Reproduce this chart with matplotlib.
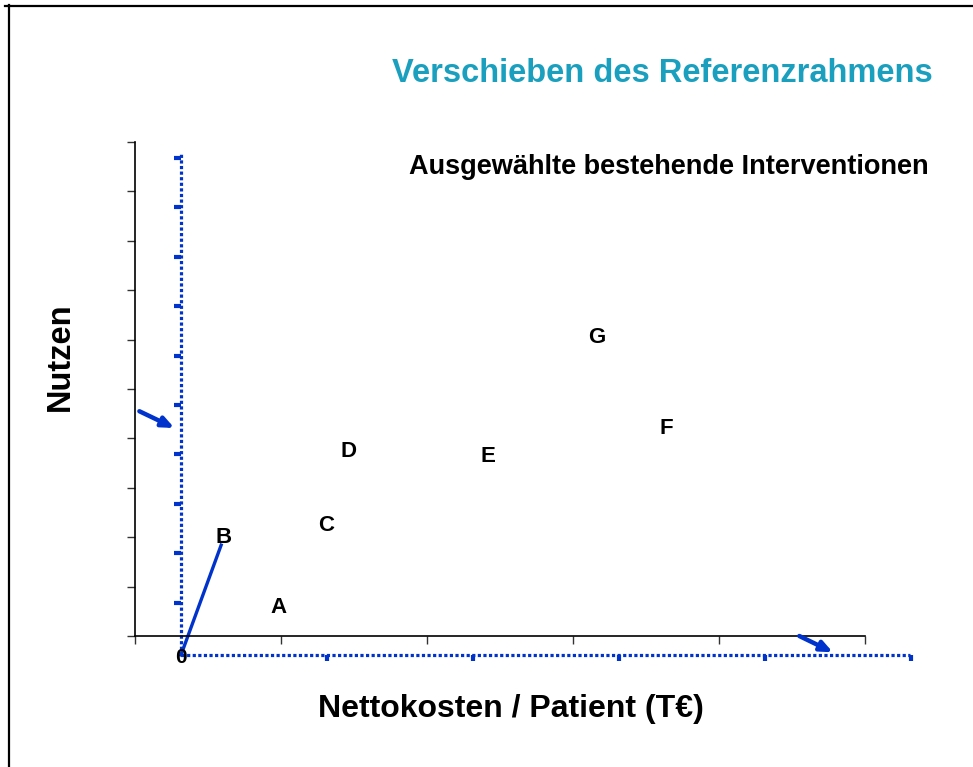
import matplotlib
matplotlib.use("Agg")
import matplotlib.pyplot as plt
from matplotlib.lines import Line2D

plt.rcParams['font.family'] = ['Liberation Sans', 'DejaVu Sans']

# Interventionen (Position im Diagramm)
labels = ["A", "B", "C", "D", "E", "F", "G"]
kosten = [0.98, 0.61, 1.31, 1.46, 2.42, 3.64, 3.16]
nutzen = [0.58, 2.0, 2.24, 3.74, 3.63, 4.2, 6.04]

# verschobener Ursprung
x0, y0 = 0.315, -0.385

blau = "#0033CC"
tuerkis = "#1AA0BE"

W, H = 973, 767
fig = plt.figure(figsize=(W / 100, H / 100), dpi=100)

# Rahmen oben / links
fig.add_artist(Line2D([5 / W, 1], [1 - 6 / H, 1 - 6 / H], color="black", lw=1.6))
fig.add_artist(Line2D([8.5 / W, 8.5 / W], [0, 1 - 5 / H], color="black", lw=1.6))

ax = fig.add_axes([135 / W, 131 / H, 730 / W, 494 / H])
ax.set_xlim(0, 5)
ax.set_ylim(0, 10)
ax.spines["top"].set_visible(False)
ax.spines["right"].set_visible(False)
for s in ["left", "bottom"]:
    ax.spines[s].set_linewidth(1.2)
ax.set_xticks(range(6))
ax.set_yticks(range(11))
ax.set_xticklabels([])
ax.set_yticklabels([])
ax.tick_params(length=6, width=1, color="#333333")

# verschobene Achsen (gepunktet)
ax.plot([x0, x0], [y0, 9.75], color=blau, lw=2.3, ls=(0, (1, 0.75)),
        dash_capstyle="butt", clip_on=False)
ax.plot([x0, 5.31], [y0, y0], color=blau, lw=2.3, ls=(0, (1, 0.75)),
        dash_capstyle="butt", clip_on=False)
for k in range(1, 11):
    ax.plot([x0 - 0.045, x0], [y0 + k + 0.06, y0 + k + 0.06], color=blau, lw=3,
            clip_on=False, solid_capstyle="butt")
for k in range(1, 6):
    ax.plot([x0 + k, x0 + k], [y0 - 0.12, y0], color=blau, lw=3, clip_on=False,
            solid_capstyle="butt")

# Pfeile
pfeil = dict(arrowstyle="-|>,head_length=0.7,head_width=0.3", color=blau, lw=3.2,
             shrinkA=0, shrinkB=0)
ax.annotate("", xy=(0.27, 4.21), xytext=(0.03, 4.55), arrowprops=pfeil,
            annotation_clip=False)
ax.annotate("", xy=(4.78, -0.33), xytext=(4.55, 0.0), arrowprops=pfeil,
            annotation_clip=False)

# Linie vom Ursprung zu B
ax.plot([x0, 0.59], [y0, 1.84], color=blau, lw=2.4, clip_on=False)

ax.text(x0, y0 - 0.05, "0", ha="center", va="center", fontsize=15,
        fontweight="bold", clip_on=False)

for lab, xv, yv in zip(labels, kosten, nutzen):
    ax.text(xv, yv, lab, ha="center", va="center", fontsize=16, fontweight="bold")

fig.text(933 / W, 1 - 74 / H, "Verschieben des Referenzrahmens", ha="right",
         va="center", fontsize=23.5, fontweight="bold", color=tuerkis)
fig.text(929 / W, 1 - 167 / H, "Ausgewählte bestehende Interventionen", ha="right",
         va="center", fontsize=19.5, fontweight="bold")
fig.text(511 / W, 1 - 709 / H, "Nettokosten / Patient (T€)", ha="center",
         va="center", fontsize=23, fontweight="bold")
fig.text(60 / W, 1 - 357 / H, "Nutzen", ha="center", va="center", rotation=90,
         fontsize=23.5, fontweight="bold")

fig.savefig("out.png", dpi=100)
